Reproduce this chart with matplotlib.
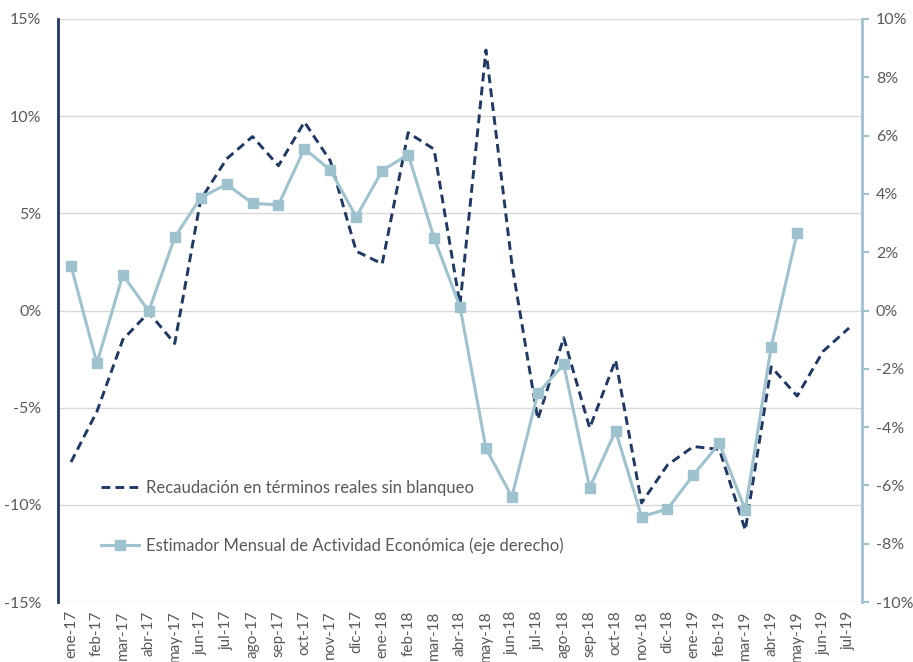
import matplotlib
matplotlib.use("Agg")
import matplotlib.pyplot as plt
import numpy as np

months = ["ene-17","feb-17","mar-17","abr-17","may-17","jun-17","jul-17","ago-17","sep-17","oct-17",
          "nov-17","dic-17","ene-18","feb-18","mar-18","abr-18","may-18","jun-18","jul-18","ago-18",
          "sep-18","oct-18","nov-18","dic-18","ene-19","feb-19","mar-19","abr-19","may-19","jun-19","jul-19"]

recaudacion = [-7.8, -5.2, -1.5, -0.1, -1.7, 5.7, 7.8, 8.95, 7.45, 9.7,
               7.7, 3.05, 2.4, 9.15, 8.3, 0.3, 13.4, 2.4, -5.6, -1.4,
               -6.05, -2.55, -9.9, -7.95, -7.0, -7.15, -11.3, -2.9, -4.4, -2.1, -0.9]

emae = [1.54, -1.81, 1.22, -0.02, 2.51, 3.87, 4.33, 3.68, 3.62, 5.55,
        4.82, 3.21, 4.8, 5.35, 2.49, 0.13, -4.73, -6.39, -2.84, -1.85,
        -6.08, -4.13, -7.07, -6.81, -5.64, -4.56, -6.84, -1.24, 2.67, np.nan, np.nan]

left_ticks = [-15, -10, -5, 0, 5, 10, 15]
right_ticks = [-10, -8, -6, -4, -2, 0, 2, 4, 6, 8, 10]

label_rec = "Recaudación en términos reales sin blanqueo"
label_emae = "Estimador Mensual de Actividad Económica (eje derecho)"

navy = "#1f3864"
light = "#9fc2cf"
txt = "#595959"

plt.rcParams['font.family'] = ['Lato', 'DejaVu Sans']

fig = plt.figure(figsize=(9.13, 6.62), dpi=100)
ax = fig.add_axes([58/913, 1-602/662, (862-58)/913, (602-19)/662])
ax2 = ax.twinx()

x = np.arange(len(months))
l1, = ax.plot(x, recaudacion, color=navy, lw=2.1, dashes=(3, 1.8), zorder=3)
l2, = ax2.plot(x, emae, color=light, lw=2.2, marker='s', markersize=6.5,
               markerfacecolor=light, markeredgecolor=light, zorder=3)

ax.set_xlim(-0.5, len(months)-0.5)
ax.set_ylim(-15, 15)
ax2.set_ylim(-10, 10)
ax.set_yticks(left_ticks)
ax.set_yticklabels([f"{v}%" for v in left_ticks])
ax2.set_yticks(right_ticks)
ax2.set_yticklabels([f"{v}%" for v in right_ticks])
ax.set_xticks(x)
ax.set_xticklabels(months, rotation=90)

ax.grid(axis='y', color='#d9d9d9', lw=1)
ax.set_axisbelow(True)

for s in ['top', 'bottom', 'right']:
    ax.spines[s].set_visible(False)
for s in ['top', 'bottom', 'left']:
    ax2.spines[s].set_visible(False)
ax.spines['left'].set_color(navy)
ax.spines['left'].set_linewidth(2)
ax2.spines['right'].set_color(light)
ax2.spines['right'].set_linewidth(2)

ax.tick_params(axis='y', length=0, labelsize=11.5, labelcolor=txt, pad=12)
ax.tick_params(axis='x', length=0, labelsize=11, labelcolor=txt, pad=6)
ax2.tick_params(axis='y', length=5, width=1.5, color=light, labelsize=11.5, labelcolor=txt, pad=5)

leg = ax2.legend([l1, l2], [label_rec, label_emae], loc='upper left',
                 bbox_to_anchor=(0.035, 0.235), frameon=False, fontsize=12,
                 labelspacing=2.5, handlelength=2.3, handletextpad=0.4)
for t in leg.get_texts():
    t.set_color(txt)

fig.savefig("out.png", dpi=100)
